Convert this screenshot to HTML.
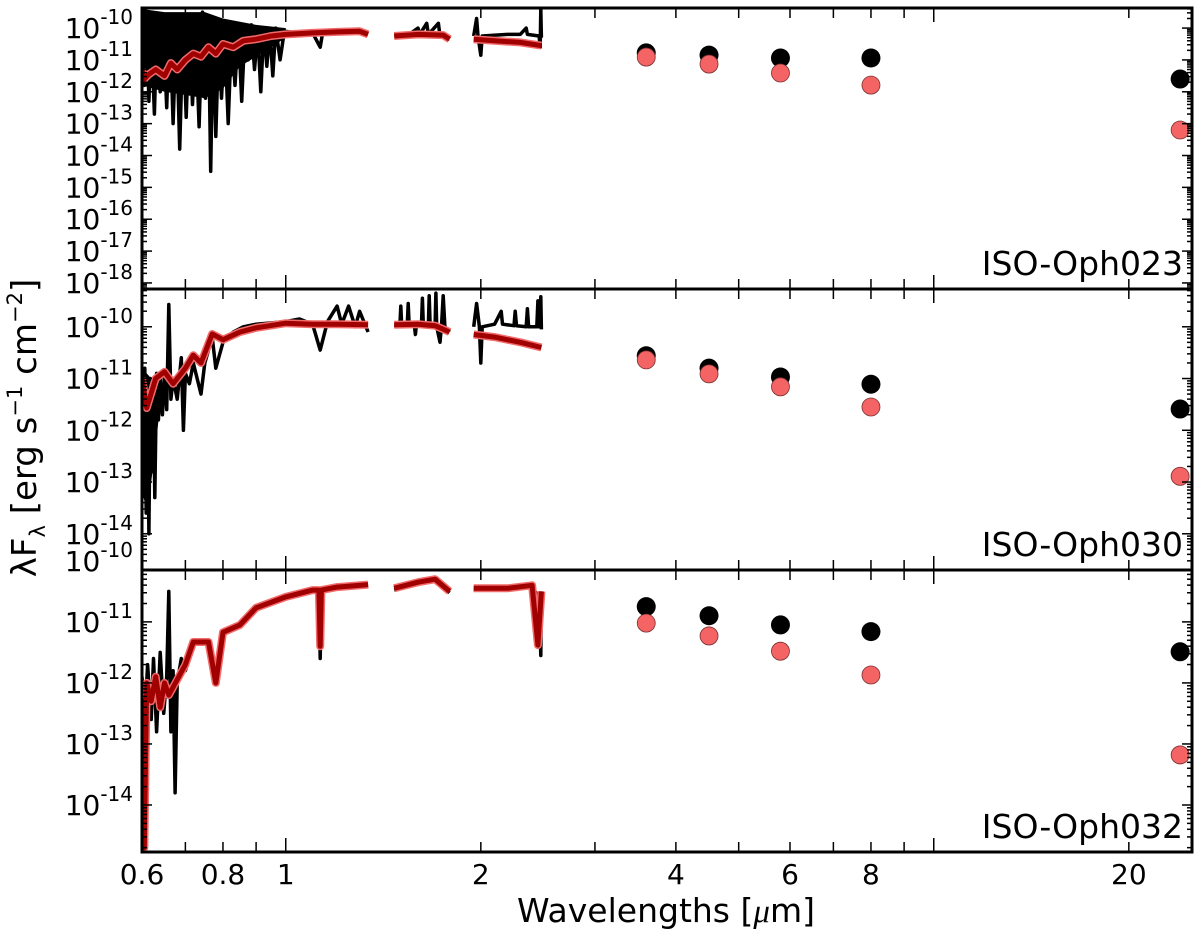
<!DOCTYPE html>
<html><head><meta charset="utf-8">
<style>
html,body{margin:0;padding:0;background:#fff;}
svg{display:block;font-family:"DejaVu Sans","Liberation Sans",sans-serif;}
</style></head>
<body>
<svg id="chart" width="1200" height="940" viewBox="0 0 1200 940" xmlns="http://www.w3.org/2000/svg">
<defs>
<clipPath id="c0"><rect x="142" y="8" width="1050" height="281"/></clipPath>
<clipPath id="c1"><rect x="142" y="289" width="1050" height="281"/></clipPath>
<clipPath id="c2"><rect x="142" y="570" width="1050" height="282"/></clipPath>
</defs>
<g id="layer"></g>
<text x="666" y="922" font-size="33" text-anchor="middle">Wavelengths [<tspan font-style="italic" font-family="Liberation Serif, serif">μ</tspan>m]</text>
<text transform="translate(36,428) rotate(-90)" font-size="34" text-anchor="middle">λF<tspan font-size="21" dy="9">λ</tspan><tspan dy="-9"> [erg s</tspan><tspan font-size="21" dy="-14">−1</tspan><tspan dy="14"> cm</tspan><tspan font-size="21" dy="-14">−2</tspan><tspan dy="14">]</tspan></text>
</svg>
<script>
// ---- data ----
const panelNames = ["ISO-Oph023","ISO-Oph030","ISO-Oph032"];
const photWl = [3.6, 4.5, 5.8, 8.0, 24];
const photObs0 = [-10.78,-10.85,-10.94,-10.94,-11.6];
const photMod0 = [-10.91,-11.13,-11.41,-11.79,-13.2];
const photObs1 = [-10.56,-10.80,-10.97,-11.11,-11.59];
const photMod1 = [-10.64,-10.91,-11.16,-11.55,-12.89];
const photObs2 = [-10.75,-10.90,-11.05,-11.16,-11.49];
const photMod2 = [-11.02,-11.23,-11.48,-11.87,-13.18];

// dense-noise envelopes of observed spectra (wavelength, upper, lower log flux)
const env0Wl = [0.60,0.65,0.70,0.75,0.80,0.85,0.90,0.95,1.0];
const env0Hi = [-9.4,-9.5,-9.5,-9.5,-9.7,-9.8,-9.9,-9.95,-10.0];
const env0Lo = [-11.8,-12.0,-12.1,-12.2,-11.9,-11.2,-10.9,-10.6,-10.3];
const env1Wl = [0.600,0.61,0.62,0.63,0.64];
const env1Hi = [-10.8,-10.9,-11.0,-10.9,-11.0];
const env1Lo = [-13.2,-13.5,-13.0,-12.3,-11.5];

// spectra: segments of [wavelength], [log flux]
const obs0Wl = [[0.600,0.605,0.610,0.615,0.620,0.627,0.633,0.640,0.647,0.655,0.662,0.670,0.678,0.686,0.694,0.702,0.710,0.718,0.726,0.735,0.744,0.752,0.760,0.766,0.772,0.780,0.788,0.796,0.805,0.815,0.825,0.835,0.845,0.855,0.865,0.875,0.885,0.895,0.905,0.915,0.925,0.935,0.945,0.955,0.965,0.980,0.995,1.05,1.10,1.13,1.14,1.34],
  [1.47,1.55,1.60,1.61,1.65,1.66,1.72,1.73,1.79],
  [1.95,1.97,1.98,2.00,2.01,2.20,2.30,2.35,2.36,2.46,2.47,2.475,2.48]];
const obs0Fx = [[-10.0,-11.8,-9.6,-12.3,-10.0,-12.7,-9.7,-12.0,-9.8,-12.5,-9.6,-13.0,-9.9,-13.8,-10.0,-12.8,-9.8,-12.4,-10.1,-13.1,-9.5,-12.2,-10.0,-14.5,-10.2,-13.4,-10.3,-12.2,-10.2,-13.0,-10.1,-11.8,-10.0,-12.3,-10.1,-11.0,-9.9,-11.3,-10.1,-12.0,-10.0,-11.2,-10.1,-11.5,-10.0,-11.0,-10.1,-10.15,-10.15,-10.6,-10.15,-10.15],
  [-10.2,-10.2,-10.0,-10.2,-9.85,-10.2,-9.85,-10.25,-10.35],
  [-10.25,-9.7,-10.25,-10.85,-10.25,-10.2,-10.2,-10.0,-10.2,-10.25,-10.6,-9.4,-10.3]];
const mod0Wl = [[0.600,0.605,0.615,0.63,0.65,0.665,0.68,0.70,0.72,0.74,0.76,0.78,0.80,0.83,0.86,0.90,0.95,1.0,1.1,1.2,1.3,1.34],[1.47,1.6,1.75,1.79],[1.95,2.1,2.3,2.48]];
const mod0Fx = [[-11.3,-11.6,-11.45,-11.3,-11.5,-11.1,-11.3,-11.0,-10.8,-10.9,-10.6,-10.8,-10.5,-10.6,-10.4,-10.35,-10.25,-10.2,-10.15,-10.12,-10.1,-10.2],[-10.25,-10.2,-10.22,-10.35],[-10.35,-10.4,-10.45,-10.55]];

const obs1Wl = [[0.600,0.603,0.606,0.609,0.612,0.615,0.618,0.621,0.625,0.628,0.632,0.636,0.640,0.645,0.650,0.655,0.660,0.665,0.670,0.680,0.690,0.695,0.700,0.710,0.720,0.740,0.750,0.770,0.780,0.800,0.830,0.860,0.900,1.00,1.05,1.10,1.13,1.16,1.20,1.22,1.25,1.28,1.30,1.34],
  [1.47,1.50,1.505,1.51,1.54,1.545,1.55,1.58,1.585,1.59,1.62,1.625,1.63,1.66,1.665,1.67,1.70,1.705,1.71,1.73,1.74,1.75,1.76,1.79],
  [1.95,1.97,1.99,2.00,2.01,2.10,2.15,2.16,2.25,2.26,2.27,2.35,2.36,2.37,2.44,2.45,2.46,2.475,2.48]];
const obs1Fx = [[-11.6,-13.0,-10.8,-13.6,-11.2,-14.0,-11.0,-12.8,-11.3,-13.3,-10.9,-11.8,-11.0,-11.7,-10.9,-11.6,-9.57,-11.4,-11.0,-11.4,-10.6,-12.0,-10.9,-11.1,-10.7,-11.3,-10.7,-10.2,-10.8,-10.3,-10.1,-10.0,-9.95,-9.9,-9.85,-9.95,-10.45,-9.9,-9.6,-9.95,-9.6,-10.0,-9.7,-10.1],
  [-9.98,-9.98,-9.6,-9.98,-9.95,-9.55,-9.95,-10.0,-10.15,-9.98,-9.95,-9.45,-9.95,-9.95,-9.4,-9.95,-9.95,-9.35,-10.0,-10.3,-9.95,-9.4,-10.0,-10.1],
  [-10.0,-9.55,-10.0,-10.7,-10.0,-9.95,-9.7,-9.95,-9.98,-9.7,-9.98,-10.0,-9.65,-10.0,-10.0,-9.5,-10.0,-9.42,-10.05]];
const mod1Wl = [[0.600,0.610,0.630,0.650,0.670,0.700,0.720,0.740,0.770,0.800,0.850,0.900,1.00,1.10,1.20,1.34],[1.47,1.60,1.70,1.79],[1.95,2.10,2.30,2.48]];
const mod1Fx = [[-10.99,-11.57,-11.0,-10.87,-11.1,-10.8,-10.55,-10.7,-10.14,-10.25,-10.1,-10.02,-9.93,-9.95,-9.95,-9.96],[-9.96,-9.95,-9.98,-10.1],[-10.15,-10.2,-10.3,-10.4]];

const obs2Wl = [[0.600,0.606,0.612,0.620,0.625,0.632,0.640,0.648,0.655,0.660,0.665,0.670,0.675,0.680,0.690,0.700,0.720,0.760,0.780,0.800,0.850,0.900,1.00,1.10,1.125,1.13,1.135,1.20,1.34],
  [1.47,1.60,1.70,1.79],
  [1.95,2.20,2.40,2.46,2.475,2.48]];
const obs2Fx = [[-11.9,-12.6,-11.7,-12.6,-11.6,-12.8,-11.5,-12.5,-11.9,-10.5,-12.8,-11.8,-13.8,-12.0,-11.6,-11.8,-11.35,-11.35,-12.0,-11.2,-11.08,-10.8,-10.62,-10.5,-10.5,-11.6,-10.5,-10.45,-10.42],
  [-10.48,-10.38,-10.33,-10.52],
  [-10.48,-10.48,-10.43,-10.6,-11.55,-10.5]];
const mod2Wl = [[0.600,0.605,0.610,0.620,0.630,0.640,0.650,0.660,0.700,0.720,0.760,0.780,0.800,0.850,0.900,1.00,1.10,1.125,1.13,1.135,1.20,1.34],[1.47,1.60,1.70,1.79],[1.95,2.20,2.40,2.45,2.48]];
const mod2Fx = [[-12.25,-14.7,-12.0,-12.3,-11.9,-12.4,-12.0,-12.2,-11.7,-11.33,-11.33,-12.0,-11.17,-11.05,-10.77,-10.59,-10.48,-10.48,-11.4,-10.48,-10.43,-10.39],[-10.45,-10.35,-10.3,-10.5],[-10.45,-10.45,-10.4,-11.38,-10.5]];

const yTickDecades = [[-10,-11,-12,-13,-14,-15,-16,-17,-18],[-10,-11,-12,-13,-14],[-10,-11,-12,-13,-14]];
const xTickLabels = ["0.6","0.8","1","2","4","6","8","20"];
const xTickValues = [0.6,0.8,1,2,4,6,8,20];

// ---- layout ----
const X0 = 142, X1 = 1192, PXDEC = 648;
const panels = [
  {top:8, bot:289, vmax:-9.37, vmin:-18.19},
  {top:289, bot:570, vmax:-9.27, vmin:-14.70},
  {top:570, bot:852, vmax:-10.15, vmin:-14.77}
];
function xs(wl){ return X0 + PXDEC*Math.log10(wl/0.6); }
function ys(p, v){ const P = panels[p]; return P.top + (P.vmax - v)/(P.vmax - P.vmin)*(P.bot - P.top); }

const NS = "http://www.w3.org/2000/svg";
const layer = document.getElementById('layer');
function mk(tag, attrs, parent){ const e = document.createElementNS(NS, tag); for (const k in attrs) e.setAttribute(k, attrs[k]); (parent||layer).appendChild(e); return e; }

const obsW = [obs0Wl, obs1Wl, obs2Wl], obsF = [obs0Fx, obs1Fx, obs2Fx];
const modW = [mod0Wl, mod1Wl, mod2Wl], modF = [mod0Fx, mod1Fx, mod2Fx];
const pObs = [photObs0, photObs1, photObs2], pMod = [photMod0, photMod1, photMod2];
const envW = [env0Wl, env1Wl, null], envH = [env0Hi, env1Hi, null], envL = [env0Lo, env1Lo, null];

for (let p=0; p<3; p++){
  const P = panels[p];
  const g = mk('g', {'clip-path':'url(#c'+p+')'});
  
  
  // noise envelope
  if (envW[p]){
    const up = envW[p].map((w,i)=> xs(w).toFixed(1)+','+ys(p,envH[p][i]).toFixed(1));
    const lo = envW[p].map((w,i)=> xs(w).toFixed(1)+','+ys(p,envL[p][i]).toFixed(1)).reverse();
    const poly = mk('polygon', {points: up.concat(lo).join(' '), fill:'#000'}, g);
    
    
  }
  // observed spectrum
  obsW[p].forEach((seg, si) => {
    const d = seg.map((w,i)=> (i?'L':'M') + xs(w).toFixed(1) + ' ' + ys(p, obsF[p][si][i]).toFixed(1)).join(' ');
    const l = mk('path', {d:d, fill:'none', stroke:'#000', 'stroke-width':3.5, 'stroke-linejoin':'round'}, g);
    
    
  });
  // model spectrum
  modW[p].forEach((seg, si) => {
    const d = seg.map((w,i)=> (i?'L':'M') + xs(w).toFixed(1) + ' ' + ys(p, modF[p][si][i]).toFixed(1)).join(' ');
    const l1 = mk('path', {d:d, fill:'none', stroke:'#f26a6a', 'stroke-width':8, 'stroke-linejoin':'round'}, g);
    
    
    const l2 = mk('path', {d:d, fill:'none', stroke:'#a00000', 'stroke-width':5, 'stroke-linejoin':'round'}, g);
    
    
  });
  // photometry
  photWl.forEach((w,i)=>{
    const c = mk('circle', {cx:xs(w), cy:ys(p,pObs[p][i]), r:9.5, fill:'#000'}, g);
    
    
  });
  photWl.forEach((w,i)=>{
    const c = mk('circle', {cx:xs(w), cy:ys(p,pMod[p][i]), r:9, fill:'#f46464', stroke:'#7a3030', 'stroke-width':0.8}, g);
    
    
  });

  // y ticks
  const tg = mk('g', {stroke:'#000', 'stroke-width':1.5});
  
  
  for (let dcd = Math.floor(P.vmin); dcd <= Math.ceil(P.vmax); dcd++){
    for (let m=1; m<10; m++){
      const v = dcd + Math.log10(m);
      if (v < P.vmin || v > P.vmax) continue;
      const y = ys(p, v), L = (m===1)?10:5;
      mk('line', {x1:X0, x2:X0+L, y1:y, y2:y}, tg);
      mk('line', {x1:X1, x2:X1-L, y1:y, y2:y}, tg);
    }
  }
  // x ticks
  const xt = [0.6,0.7,0.8,0.9,1,2,3,4,5,6,7,8,9,10,20];
  xt.forEach(w=>{
    const x = xs(w), L = (w===1||w===10)?14:10;
    mk('line', {x1:x, x2:x, y1:P.top, y2:P.top+L}, tg);
    mk('line', {x1:x, x2:x, y1:P.bot, y2:P.bot-L}, tg);
  });
  // y tick labels
  yTickDecades[p].forEach(dcd=>{
    const y = ys(p, dcd);
    const t = mk('text', {x:133, y:y+10, 'font-size':28, 'text-anchor':'end', fill:'#000'});
    
    
    const a = mk('tspan', {}, t); a.textContent = '10';
    const b = mk('tspan', {'font-size':20, dy:-14}, t); b.textContent = '-' + (-dcd);
  });
  // panel label
  const lab = mk('text', {x:1183, y:P.bot-14, 'font-size':33, 'text-anchor':'end', fill:'#000'});
  
  
  lab.textContent = panelNames[p];
  // frame
  const fr = mk('rect', {x:X0, y:P.top, width:X1-X0, height:P.bot-P.top, fill:'none', stroke:'#000', 'stroke-width':3});
  
  
}
// x tick labels
xTickValues.forEach((w,i)=>{
  const t = mk('text', {x:xs(w), y:884, 'font-size':28, 'text-anchor':'middle', fill:'#000'});
  
  
  t.textContent = xTickLabels[i];
});
</script>
</body></html>
